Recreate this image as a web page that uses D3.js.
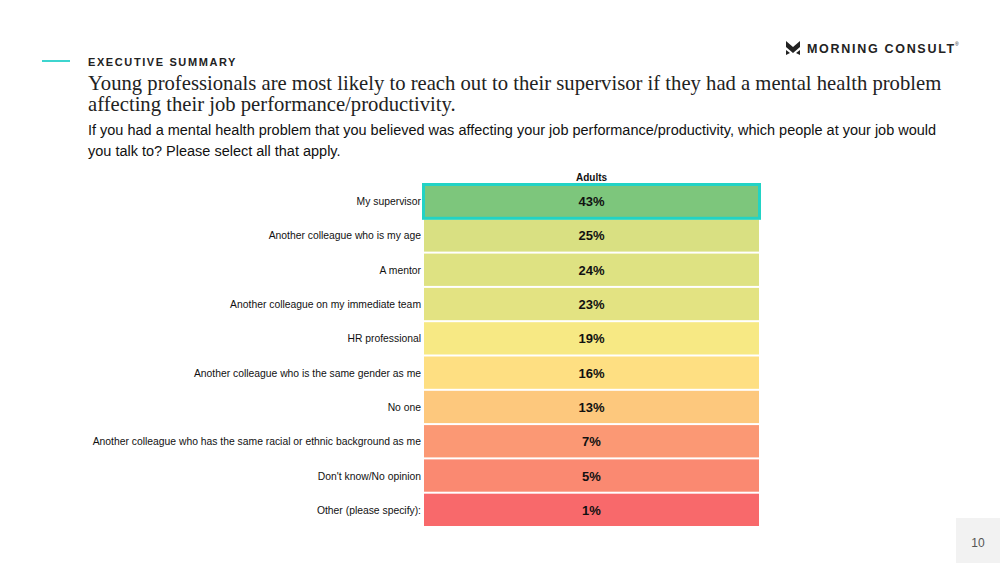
<!DOCTYPE html>
<html><head><meta charset="utf-8">
<script src="https://cdn.jsdelivr.net/npm/d3@7"></script>
<style>body{margin:0;background:#fff}svg{display:block}</style>
</head><body><svg id="c" width="1000" height="563"></svg>
<script>
const categories = ["My supervisor","Another colleague who is my age","A mentor","Another colleague on my immediate team","HR professional","Another colleague who is the same gender as me","No one","Another colleague who has the same racial or ethnic background as me","Don't know/No opinion","Other (please specify):"];
const adults = [43,25,24,23,19,16,13,7,5,1];
const columnLabel = "Adults";

const svg = d3.select("#c");

function fitFont(sel, target, base){
  const w = sel.node().getComputedTextLength();
  const fs = base * target / w;
  sel.attr("font-size", fs);
  return fs;
}

// header
svg.append("line").attr("x1",42).attr("x2",70).attr("y1",61).attr("y2",61).attr("stroke","#3ED5CF").attr("stroke-width",2);
svg.append("text").attr("x",88).attr("y",66).text("EXECUTIVE SUMMARY")
  .attr("font-family","Liberation Sans, Arial, sans-serif").attr("font-weight","bold").attr("font-size",11).attr("letter-spacing",1.6).attr("fill","#222");
const title = ["Young professionals are most likely to reach out to their supervisor if they had a mental health problem","affecting their job performance/productivity."];
const t1 = svg.append("text").attr("x",88).attr("y",90).text(title[0]).attr("font-family","Liberation Serif, Georgia, serif").attr("font-size",20).attr("fill","#222");
const tfs = fitFont(t1, 854, 20);
svg.append("text").attr("x",88).attr("y",111).text(title[1]).attr("font-family","Liberation Serif, Georgia, serif").attr("font-size",tfs).attr("fill","#222");
const sub = ["If you had a mental health problem that you believed was affecting your job performance/productivity, which people at your job would","you talk to? Please select all that apply."];
const s1 = svg.append("text").attr("x",88).attr("y",135).text(sub[0]).attr("font-family","Liberation Sans, Arial, sans-serif").attr("font-size",14).attr("fill","#111");
const sfs = fitFont(s1, 849, 14);
svg.append("text").attr("x",88).attr("y",156).text(sub[1]).attr("font-family","Liberation Sans, Arial, sans-serif").attr("font-size",sfs).attr("fill","#111");

// logo
const lg = svg.append("g").attr("transform","translate(786,41)");
lg.append("path").attr("d","M0,0 L7,6 L14,0 L14,6 L7,12 L0,6 Z").attr("fill","#222");
lg.append("path").attr("d","M0,9 L4,12 L0,14 Z M14,9 L10,12 L14,14 Z").attr("fill","#222");
svg.append("text").attr("x",807).attr("y",53).text("MORNING CONSULT").attr("font-family","Liberation Sans, Arial, sans-serif").attr("font-weight","bold").attr("font-size",12.5).attr("letter-spacing",1.7).attr("fill","#222");
svg.append("text").attr("x",955).attr("y",46).text("®").attr("font-family","Liberation Sans, Arial, sans-serif").attr("font-size",5).attr("fill","#222");

// table
const x0 = 424, x1 = 759;
const y = d3.scaleBand().domain(categories).range([184,527]).paddingInner(0);
const color = d3.scaleLinear().domain([d3.min(adults), d3.median(adults), d3.max(adults)]).range(["#F8696B","#FFEB84","#7DC67C"]);

svg.append("text").attr("x",(x0+x1)/2).attr("y",181).attr("text-anchor","middle").text(columnLabel)
  .attr("font-family","Liberation Sans, Arial, sans-serif").attr("font-weight","bold").attr("font-size",10).attr("fill","#111");

const rows = svg.append("g").selectAll("g").data(categories).join("g");
rows.append("rect").attr("x",x0).attr("width",x1-x0).attr("y",d=>y(d)+1).attr("height",y.bandwidth()-2)
  .attr("fill",(d,i)=>color(adults[i]));
rows.append("text").attr("x",(x0+x1)/2).attr("y",d=>y(d)+y.bandwidth()/2+5).attr("text-anchor","middle")
  .text((d,i)=>adults[i]+"%").attr("font-family","Liberation Sans, Arial, sans-serif").attr("font-weight","bold").attr("font-size",13).attr("fill","#111");
rows.append("text").attr("x",421).attr("y",d=>y(d)+y.bandwidth()/2+4).attr("text-anchor","end")
  .text(d=>d).attr("font-family","Liberation Sans, Arial, sans-serif").attr("font-size",10.35).attr("fill","#111");

// highlight first row
svg.append("rect").attr("x",x0-0.5).attr("y",y(categories[0])+0.5).attr("width",x1-x0+1).attr("height",y.bandwidth()-0.5)
  .attr("fill","none").attr("stroke","#22D3C5").attr("stroke-width",3);

// page number
svg.append("rect").attr("x",956).attr("y",518).attr("width",44).attr("height",45).attr("fill","#F2F2F2");
svg.append("text").attr("x",978).attr("y",547).attr("text-anchor","middle").text("10").attr("font-family","Liberation Sans, Arial, sans-serif").attr("font-size",12).attr("fill","#555");
</script></body></html>
